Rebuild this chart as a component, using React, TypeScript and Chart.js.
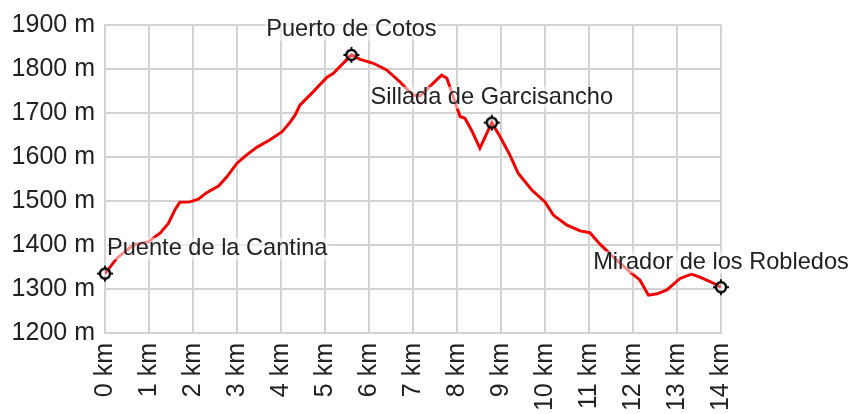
import React, { useEffect, useRef } from "react";
import { Chart, registerables } from "chart.js";

Chart.register(...registerables);

// Elevation profile (distance in km, elevation in m)
const distanceKm: number[] = [
  0.0, 0.27, 0.64, 0.98, 1.25, 1.44, 1.59, 1.7, 1.93, 2.12, 2.31, 2.58, 2.77, 3.0,
  3.22, 3.45, 3.75, 4.02, 4.2, 4.32, 4.43, 4.73, 5.04, 5.19, 5.6, 5.8, 6.1, 6.4,
  6.7, 7.0, 7.16, 7.46, 7.65, 7.77, 7.95, 8.07, 8.18, 8.33, 8.52, 8.64, 8.79, 8.98,
  9.2, 9.39, 9.7, 10.0, 10.19, 10.5, 10.8, 11.02, 11.25, 11.55, 11.93, 12.16, 12.35,
  12.55, 12.77, 13.07, 13.33, 13.52, 13.75, 14.0,
];
const elevationM: number[] = [
  1335, 1370, 1400, 1407, 1427, 1449, 1480, 1497, 1498, 1504, 1519, 1534, 1555, 1586,
  1605, 1622, 1639, 1657, 1678, 1695, 1718, 1748, 1781, 1790, 1832, 1822, 1813, 1798,
  1771, 1741, 1739, 1768, 1786, 1779, 1726, 1692, 1688, 1661, 1620, 1646, 1678, 1646,
  1605, 1563, 1525, 1498, 1468, 1445, 1432, 1428, 1402, 1373, 1339, 1320, 1286,
  1289, 1298, 1324, 1334, 1327, 1317, 1304,
];

// Waypoints
const waypointNames: string[] = [
  "Puente de la Cantina",
  "Puerto de Cotos",
  "Sillada de Garcisancho",
  "Mirador de los Robledos",
];
const waypointKm: number[] = [0, 5.6, 8.79, 14];
const waypointElev: number[] = [1335, 1832, 1678, 1304];

const FONT = '"Liberation Sans", Arial, Helvetica, sans-serif';

function makeMarker(): HTMLCanvasElement {
  const c = document.createElement("canvas");
  c.width = 18;
  c.height = 18;
  const g = c.getContext("2d")!;
  const cx = 9,
    cy = 9;
  g.fillStyle = "rgba(255,255,255,0.3)";
  g.beginPath();
  g.arc(cx, cy, 5, 0, Math.PI * 2);
  g.fill();
  g.strokeStyle = "#000";
  g.lineWidth = 2.4;
  g.beginPath();
  g.arc(cx, cy, 5, 0, Math.PI * 2);
  g.stroke();
  g.lineWidth = 1.8;
  g.beginPath();
  g.moveTo(cx, cy - 5);
  g.lineTo(cx, cy - 8);
  g.moveTo(cx, cy + 5);
  g.lineTo(cx, cy + 8);
  g.moveTo(cx - 5, cy);
  g.lineTo(cx - 8, cy);
  g.moveTo(cx + 5, cy);
  g.lineTo(cx + 8, cy);
  g.stroke();
  return c;
}

const labelPlugin = {
  id: "waypointLabels",
  afterDatasetsDraw(chart: any) {
    const { ctx, scales, chartArea } = chart;
    const xs = scales.x;
    const ys = scales.y;
    ctx.save();
    ctx.font = `23.6px ${FONT}`;
    ctx.textBaseline = "middle";
    ctx.textAlign = "left";
    waypointNames.forEach((name, i) => {
      const px = xs.getPixelForValue(waypointKm[i]);
      const py = ys.getPixelForValue(waypointElev[i]) - 25;
      const w = ctx.measureText(name).width;
      let left = px - w / 2;
      if (left < chartArea.left + 2) left = chartArea.left + 2;
      ctx.fillStyle = "rgba(255,255,255,0.55)";
      ctx.fillRect(left - 1, py - 11, w + 2, 22);
      ctx.fillStyle = "#222";
      ctx.fillText(name, left, py);
    });
    ctx.restore();
  },
};

export default function App() {
  const ref = useRef<HTMLCanvasElement | null>(null);

  useEffect(() => {
    if (!ref.current) return;
    const marker = makeMarker();
    const chart = new Chart(ref.current, {
      type: "line",
      data: {
        datasets: [
          {
            data: waypointKm.map((k, i) => ({ x: k, y: waypointElev[i] })),
            showLine: false,
            pointStyle: marker as any,
            pointRadius: 9,
            clip: false as any,
            order: 0,
          },
          {
            data: distanceKm.map((k, i) => ({ x: k, y: elevationM[i] })),
            borderColor: "#f00000",
            borderWidth: 3,
            pointRadius: 0,
            tension: 0,
            fill: false,
            order: 1,
          },
        ],
      },
      options: {
        animation: false,
        responsive: false,
        devicePixelRatio: 1,
        layout: { padding: { top: 25, right: 127, left: 0, bottom: 0 } },
        plugins: { legend: { display: false }, tooltip: { enabled: false } },
        scales: {
          x: {
            type: "linear",
            min: 0,
            max: 14,
            afterFit: (s: any) => {
              s.height = 81;
            },
            ticks: {
              stepSize: 1,
              minRotation: 90,
              maxRotation: 90,
              padding: 10,
              color: "#222",
              font: { family: FONT, size: 25 },
              callback: (v: any) => `${v} km`,
            },
            grid: { color: "#d3d3d3", lineWidth: 2, drawTicks: false },
            border: { color: "#d3d3d3", width: 2 },
          },
          y: {
            type: "linear",
            min: 1200,
            max: 1900,
            afterFit: (s: any) => {
              s.width = 105;
            },
            ticks: {
              stepSize: 100,
              padding: 10,
              color: "#222",
              font: { family: FONT, size: 25 },
              callback: (v: any) => `${v} m`,
            },
            grid: { color: "#d3d3d3", lineWidth: 2, drawTicks: false },
            border: { color: "#d3d3d3", width: 2 },
          },
        },
      },
      plugins: [labelPlugin],
    });
    return () => chart.destroy();
  }, []);

  return (
    <div
      style={{
        position: "fixed",
        left: 0,
        top: 0,
        width: 848,
        height: 414,
        background: "#fff",
      }}
    >
      <canvas ref={ref} width={848} height={414} style={{ display: "block" }} />
    </div>
  );
}
